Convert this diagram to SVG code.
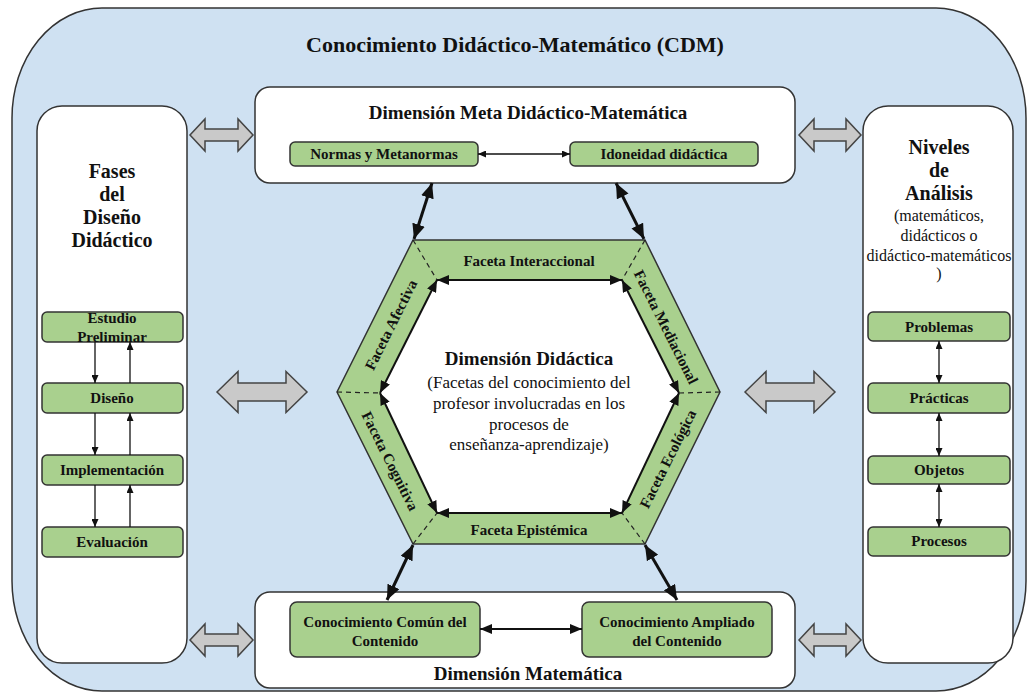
<svg xmlns="http://www.w3.org/2000/svg" width="1030" height="693" viewBox="0 0 1030 693">
<style>
text{font-family:"Liberation Serif","Times New Roman",serif;fill:#111;text-anchor:middle;dominant-baseline:central}
.b{font-weight:bold}
.panel{fill:#fff;stroke:#333;stroke-width:1.5}
.gbox{fill:#a9d08e;stroke:#333;stroke-width:1.5}
.garrow{fill:#c9c9c9;stroke:#444;stroke-width:1.5;stroke-linejoin:miter}
.thin{stroke:#111;stroke-width:1.3;fill:none}
.mid{stroke:#111;stroke-width:2;fill:none}
.thick{stroke:#111;stroke-width:3;fill:none}
.dash{stroke:#222;stroke-width:1.2;stroke-dasharray:5 4;fill:none}
</style>
<defs>
<marker id="hs" markerUnits="userSpaceOnUse" markerWidth="8" markerHeight="7" refX="8" refY="3.5" orient="auto-start-reverse"><path d="M0,0 L8,3.5 L0,7 z" fill="#111"/></marker>
<marker id="hm" markerUnits="userSpaceOnUse" markerWidth="12" markerHeight="10" refX="12" refY="5" orient="auto-start-reverse"><path d="M0,0 L12,5 L0,10 z" fill="#111"/></marker>
<marker id="hl" markerUnits="userSpaceOnUse" markerWidth="15" markerHeight="13" refX="15" refY="6.5" orient="auto-start-reverse"><path d="M0,0 L15,6.5 L0,13 z" fill="#111"/></marker>
</defs>

<g id="cdm-frame">
<path d="M102,8 H936 A90 110 0 0 1 1026,118 V581 A90 110 0 0 1 936,691 H102 A90 110 0 0 1 12,581 V118 A90 110 0 0 1 102,8 Z" fill="#cfe1f2" stroke="#333" stroke-width="1.5"/>
<text class="b" x="515" y="44" font-size="22">Conocimiento Didáctico-Matemático (CDM)</text>
</g>

<g id="fases">
<rect class="panel" x="37" y="106" width="150" height="557" rx="25"/>
<text class="b" x="112" y="171" font-size="20">Fases</text>
<text class="b" x="112" y="194" font-size="20">del</text>
<text class="b" x="112" y="217" font-size="20">Diseño</text>
<text class="b" x="112" y="240" font-size="20">Didáctico</text>
</g>
<g id="estudio"><rect class="gbox" x="42" y="312" width="141" height="30" rx="5"/><text class="b" x="112" y="318" font-size="15">Estudio</text><text class="b" x="112" y="337" font-size="15">Preliminar</text></g>
<g id="diseno"><rect class="gbox" x="42" y="383" width="141" height="30" rx="5"/><text class="b" x="112" y="398" font-size="15">Diseño</text></g>
<g id="implementacion"><rect class="gbox" x="42" y="455" width="141" height="30" rx="5"/><text class="b" x="112" y="470" font-size="15">Implementación</text></g>
<g id="evaluacion"><rect class="gbox" x="42" y="527" width="141" height="30" rx="5"/><text class="b" x="112" y="542" font-size="15">Evaluación</text></g>

<g id="niveles">
<rect class="panel" x="863" y="106" width="150" height="557" rx="25"/>
<text class="b" x="939" y="147" font-size="20">Niveles</text>
<text class="b" x="939" y="170" font-size="20">de</text>
<text class="b" x="939" y="193" font-size="20">Análisis</text>
<text x="939" y="215" font-size="16">(matemáticos,</text>
<text x="939" y="235" font-size="16">didácticos o</text>
<text x="939" y="255" font-size="16">didáctico-matemáticos</text>
<text x="939" y="273" font-size="16">)</text>
</g>
<g id="problemas"><rect class="gbox" x="868" y="312" width="142" height="29" rx="5"/><text class="b" x="939" y="327" font-size="15">Problemas</text></g>
<g id="practicas"><rect class="gbox" x="868" y="383" width="142" height="30" rx="5"/><text class="b" x="939" y="398" font-size="15">Prácticas</text></g>
<g id="objetos"><rect class="gbox" x="868" y="456" width="142" height="28" rx="5"/><text class="b" x="939" y="470" font-size="15">Objetos</text></g>
<g id="procesos"><rect class="gbox" x="868" y="527" width="142" height="29" rx="5"/><text class="b" x="939" y="541" font-size="15">Procesos</text></g>

<g id="meta">
<rect class="panel" x="255" y="87" width="540" height="96" rx="15"/>
<text class="b" x="528" y="112" font-size="19">Dimensión Meta Didáctico-Matemática</text>
</g>
<g id="normas"><rect class="gbox" x="290" y="142" width="188" height="24" rx="5"/><text class="b" x="384" y="154" font-size="15">Normas y Metanormas</text></g>
<g id="idoneidad"><rect class="gbox" x="570" y="142" width="188" height="24" rx="5"/><text class="b" x="664" y="154" font-size="15">Idoneidad didáctica</text></g>

<g id="matematica">
<rect class="panel" x="255" y="592" width="540" height="96" rx="15"/>
<text class="b" x="528" y="673" font-size="19">Dimensión Matemática</text>
</g>
<g id="comun"><rect class="gbox" x="290" y="602" width="190" height="55" rx="7"/><text class="b" x="385" y="622" font-size="15">Conocimiento Común del</text><text class="b" x="385" y="641" font-size="15">Contenido</text></g>
<g id="ampliado"><rect class="gbox" x="582" y="602" width="190" height="55" rx="7"/><text class="b" x="677" y="622" font-size="15">Conocimiento Ampliado</text><text class="b" x="677" y="641" font-size="15">del Contenido</text></g>

<g id="didactica">
<polygon points="413,240 645,240 720,392 645,544 413,544 337,392" fill="#a9d08e" stroke="#333" stroke-width="1.5"/>
<polygon points="437,280 622,280 679,393 622,513 437,513 380,393" fill="#fff"/>
<path class="dash" d="M413,240 L437,280 M645,240 L622,280 M720,392 L679,393 M645,544 L622,513 M413,544 L437,513 M337,392 L380,393"/>
<text class="b" x="529" y="261" font-size="15">Faceta Interaccional</text>
<text class="b" x="529" y="530" font-size="15">Faceta Epistémica</text>
<text class="b" font-size="15" transform="translate(391,325) rotate(-63.4)" x="0" y="0">Faceta  Afectiva</text>
<text class="b" font-size="15" transform="translate(666,327) rotate(63.4)" x="0" y="0">Faceta Mediacional</text>
<text class="b" font-size="15" transform="translate(390,461) rotate(63.4)" x="0" y="0">Faceta Cognitiva</text>
<text class="b" font-size="15" transform="translate(668,459) rotate(-63.4)" x="0" y="0">Faceta Ecológica</text>
<text class="b" x="529" y="358" font-size="19">Dimensión Didáctica</text>
<text x="529" y="382" font-size="17">(Facetas del conocimiento del</text>
<text x="529" y="403" font-size="17">profesor involucradas en los</text>
<text x="529" y="424" font-size="17">procesos de</text>
<text x="529" y="444" font-size="17">enseñanza-aprendizaje)</text>
</g>

<g id="connectors">
<polygon class="garrow" points="190,135 205,119 205,129 238,129 238,119 253,135 238,151 238,141 205,141 205,151"/>
<polygon class="garrow" points="799,135 814,119 814,129 846,129 846,119 861,135 846,151 846,141 814,141 814,151"/>
<polygon class="garrow" points="190,640 205,624 205,634 238,634 238,624 253,640 238,656 238,646 205,646 205,656"/>
<polygon class="garrow" points="799,640 814,624 814,634 846,634 846,624 861,640 846,656 846,646 814,646 814,656"/>
<polygon class="garrow" points="217,392 238,371.5 238,383 286,383 286,371.5 307,392 286,412.5 286,401 238,401 238,412.5"/>
<polygon class="garrow" points="745,392 766,371.5 766,383 814,383 814,371.5 835,392 814,412.5 814,401 766,401 766,412.5"/>

<line class="thin" x1="95" y1="342" x2="95" y2="383" marker-end="url(#hs)"/>
<line class="thin" x1="130" y1="383" x2="130" y2="342" marker-end="url(#hs)"/>
<line class="thin" x1="95" y1="413" x2="95" y2="455" marker-end="url(#hs)"/>
<line class="thin" x1="130" y1="455" x2="130" y2="413" marker-end="url(#hs)"/>
<line class="thin" x1="95" y1="485" x2="95" y2="527" marker-end="url(#hs)"/>
<line class="thin" x1="130" y1="527" x2="130" y2="485" marker-end="url(#hs)"/>

<line class="thin" x1="939" y1="341" x2="939" y2="383" marker-start="url(#hs)" marker-end="url(#hs)"/>
<line class="thin" x1="939" y1="413" x2="939" y2="456" marker-start="url(#hs)" marker-end="url(#hs)"/>
<line class="thin" x1="939" y1="484" x2="939" y2="527" marker-start="url(#hs)" marker-end="url(#hs)"/>

<line class="thin" x1="478" y1="154" x2="570" y2="154" marker-start="url(#hs)" marker-end="url(#hs)"/>
<line class="mid" x1="480" y1="629" x2="582" y2="629" marker-start="url(#hm)" marker-end="url(#hm)"/>

<line class="mid" x1="437" y1="280" x2="622" y2="280" marker-start="url(#hm)" marker-end="url(#hm)"/>
<line class="mid" x1="622" y1="280" x2="679" y2="393" marker-start="url(#hm)" marker-end="url(#hm)"/>
<line class="mid" x1="679" y1="393" x2="622" y2="513" marker-start="url(#hm)" marker-end="url(#hm)"/>
<line class="mid" x1="622" y1="513" x2="437" y2="513" marker-start="url(#hm)" marker-end="url(#hm)"/>
<line class="mid" x1="437" y1="513" x2="380" y2="393" marker-start="url(#hm)" marker-end="url(#hm)"/>
<line class="mid" x1="380" y1="393" x2="437" y2="280" marker-start="url(#hm)" marker-end="url(#hm)"/>

<line class="thick" x1="432" y1="183" x2="414" y2="239" marker-start="url(#hl)" marker-end="url(#hl)"/>
<line class="thick" x1="616" y1="183" x2="644" y2="239" marker-start="url(#hl)" marker-end="url(#hl)"/>
<line class="thick" x1="413" y1="545" x2="387" y2="600" marker-start="url(#hl)" marker-end="url(#hl)"/>
<line class="thick" x1="645" y1="545" x2="677" y2="600" marker-start="url(#hl)" marker-end="url(#hl)"/>
</g>
</svg>
